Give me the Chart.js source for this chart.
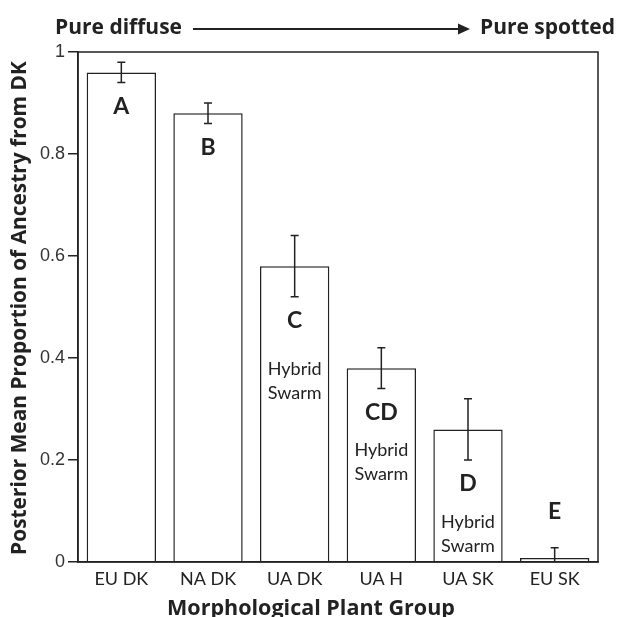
<!DOCTYPE html>
<html>
<head>
<meta charset="utf-8">
<script src="https://cdn.jsdelivr.net/npm/chart.js@4.4.1/dist/chart.umd.min.js"></script>
<style>
  html, body { margin: 0; padding: 0; background: #ffffff; }
  #wrap { width: 617px; height: 617px; position: relative; }
</style>
</head>
<body>
<div id="wrap"><canvas id="c" width="617" height="617"></canvas></div>
<script>
// ---- data ----
const categories = ["EU DK", "NA DK", "UA DK", "UA H", "UA SK", "EU SK"];
const meanAncestry = [0.96, 0.88, 0.58, 0.38, 0.26, 0.008];
const errUpper = [0.02, 0.02, 0.06, 0.04, 0.06, 0.02];
const errLower = [0.02, 0.02, 0.06, 0.04, 0.06, 0.008];
const groupLetters = ["A", "B", "C", "CD", "D", "E"];
const hybridNote = ["", "", "Hybrid Swarm", "Hybrid Swarm", "Hybrid Swarm", ""];
const yTicks = [0, 0.2, 0.4, 0.6, 0.8, 1];
const yTitle = "Posterior Mean Proportion of Ancestry from DK";
const xTitle = "Morphological Plant Group";
const leftNote = "Pure diffuse";
const rightNote = "Pure spotted";

const INK = "#222222";
const TITLE_FONT = "'Open Sans'";

function fitFont(ctx, text, weight, family, targetW, base) {
  ctx.font = weight + " " + base + "px " + family;
  const w = ctx.measureText(text).width;
  const size = base * targetW / w;
  return weight + " " + size.toFixed(2) + "px " + family;
}

const overlay = {
  id: "overlay",
  afterDatasetsDraw(chart) {
    const ctx = chart.ctx;
    const ca = chart.chartArea;
    const ys = chart.scales.y;
    const meta = chart.getDatasetMeta(0);
    ctx.save();
    // box
    ctx.strokeStyle = INK;
    ctx.lineWidth = 1.5;
    ctx.strokeRect(ca.left, ca.top, ca.right - ca.left, ca.bottom - ca.top);
    // error bars
    meta.data.forEach((bar, i) => {
      const x = bar.x;
      const yHi = ys.getPixelForValue(meanAncestry[i] + errUpper[i]);
      const yLo = ys.getPixelForValue(meanAncestry[i] - errLower[i]);
      ctx.beginPath();
      ctx.moveTo(x, yHi); ctx.lineTo(x, yLo);
      ctx.moveTo(x - 4, yHi); ctx.lineTo(x + 4, yHi);
      if (errLower[i] < meanAncestry[i]) { ctx.moveTo(x - 4, yLo); ctx.lineTo(x + 4, yLo); }
      ctx.stroke();
    });
    // letters and notes
    ctx.fillStyle = INK;
    ctx.textAlign = "center";
    ctx.textBaseline = "middle";
    meta.data.forEach((bar, i) => {
      const x = bar.x;
      const yHi = ys.getPixelForValue(meanAncestry[i] + errUpper[i]);
      const yLo = ys.getPixelForValue(meanAncestry[i] - errLower[i]);
      const ly = meanAncestry[i] < 0.1 ? yHi - 36 : yLo + 24;
      ctx.font = "bold 23px Lato";
      ctx.fillText(groupLetters[i], x, ly);
      if (hybridNote[i]) {
        const parts = hybridNote[i].split(" ");
        ctx.font = "18px Lato";
        const gap = i === 2 ? 48 : 38;
        ctx.fillText(parts[0], x, ly + gap);
        ctx.fillText(parts[1], x, ly + gap + 24);
      }
    });
    // axis titles
    ctx.textBaseline = "alphabetic";
    ctx.font = fitFont(ctx, xTitle, "bold", TITLE_FONT, 288, 20);
    ctx.fillText(xTitle, 311, 615);
    ctx.save();
    ctx.translate(26, 308);
    ctx.rotate(-Math.PI / 2);
    ctx.font = fitFont(ctx, yTitle, "bold", TITLE_FONT, 494, 20);
    ctx.fillText(yTitle, 0, 0);
    ctx.restore();
    // top annotation
    ctx.font = fitFont(ctx, leftNote, "bold", TITLE_FONT, 127, 20);
    ctx.textAlign = "left";
    ctx.fillText(leftNote, 55, 34);
    ctx.textAlign = "right";
    ctx.fillText(rightNote, 615, 34);
    ctx.lineWidth = 2;
    ctx.beginPath();
    ctx.moveTo(193, 29); ctx.lineTo(462, 29);
    ctx.stroke();
    ctx.beginPath();
    ctx.moveTo(470, 29); ctx.lineTo(458, 23.5); ctx.lineTo(458, 34.5); ctx.closePath();
    ctx.fill();
    ctx.restore();
  }
};

new Chart(document.getElementById("c"), {
  type: "bar",
  data: {
    labels: categories,
    datasets: [{
      data: meanAncestry,
      backgroundColor: "#ffffff",
      borderColor: INK,
      borderWidth: 1.5,
      barPercentage: 0.8,
      categoryPercentage: 1.0
    }]
  },
  options: {
    responsive: false,
    animation: false,
    devicePixelRatio: 1,
    layout: { padding: { top: 52, right: 19, left: 0, bottom: 0 } },
    plugins: { legend: { display: false }, tooltip: { enabled: false } },
    scales: {
      x: {
        grid: { display: false, drawTicks: false },
        border: { display: true, color: INK, width: 1.5 },
        ticks: { color: INK, font: { family: "Lato", size: 18 }, padding: 6 },
        afterFit(scale) { scale.height = 55; }
      },
      y: {
        min: 0, max: 1,
        afterBuildTicks(scale) { scale.ticks = yTicks.map(v => ({ value: v })); },
        grid: { drawOnChartArea: false, drawTicks: true, tickLength: 10, color: INK, lineWidth: 1.5 },
        border: { display: true, color: INK, width: 1.5 },
        ticks: {
          color: "#333333",
          font: { family: "Liberation Sans", size: 18 },
          padding: 3,
          callback: (v) => String(v)
        },
        afterFit(scale) { scale.width = 78; }
      }
    }
  },
  plugins: [overlay]
});
</script>
</body>
</html>
